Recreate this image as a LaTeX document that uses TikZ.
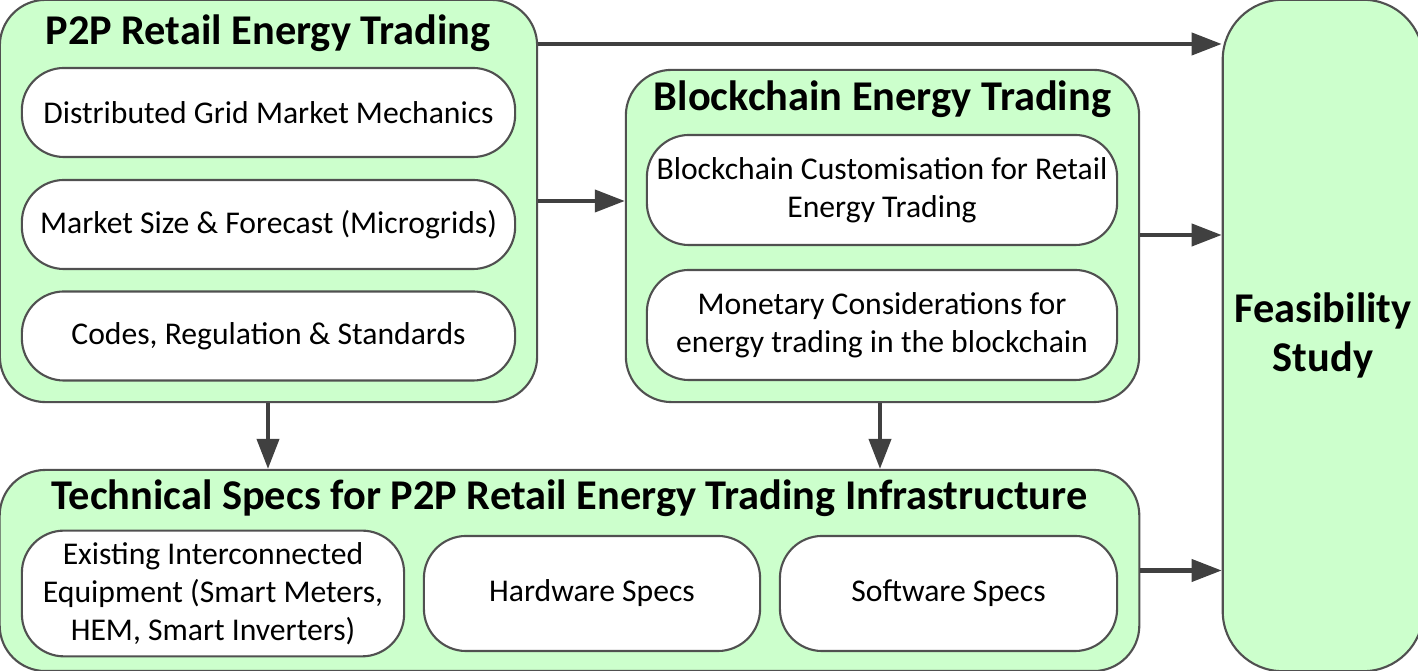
\documentclass[tikz,border=0pt]{standalone}
\usepackage{fontspec}
\setmainfont{Carlito}
\usetikzlibrary{arrows.meta,positioning}
\definecolor{panelgreen}{HTML}{CCFFCC}
\definecolor{edgegray}{HTML}{505050}
\definecolor{arrowgray}{HTML}{404040}
\tikzset{
  panel/.style={draw=edgegray, fill=panelgreen, line width=0.6pt, rounded corners=13pt},
  item/.style={draw=edgegray, fill=white, line width=0.6pt, rounded corners=12pt,
    inner xsep=2pt, align=center, font=\fontsize{9}{10.8}\selectfont},
  heading/.style={font=\fontsize{12.05}{14}\selectfont\bfseries},
  flow/.style={-{Triangle[length=3mm,width=2.2mm]}, line width=1.15pt, arrowgray}
}

\begin{document}
\begin{tikzpicture}[x=0.01cm, y=-0.01cm]
  \useasboundingbox (0,0) rectangle (1418,671);
  % panels
  \node[panel, minimum width=5.37cm, minimum height=4.02cm] (p2p) at (268.5,201) {};
  \node[panel, minimum width=5.13cm, minimum height=3.32cm] (chain) at (882.5,236) {};
  \node[panel, minimum width=11.39cm, minimum height=2.01cm] (tech) at (569.5,570.5) {};
  \node[panel, rounded corners=17pt, minimum width=1.90cm, minimum height=6.71cm,
    font=\fontsize{12.05}{14}\selectfont\bfseries, align=center] (feas) at (1323,335.5) {Feasibility\\Study};
  % headings
  \node[heading] (p2ptitle) at (268,33) {P2P Retail Energy Trading};
  \node[heading] (chaintitle) at (882.5,99) {Blockchain Energy Trading};
  \node[heading] (techtitle) at (569.5,498) {Technical Specs for P2P Retail Energy Trading Infrastructure};
  % items
  \node[item, minimum width=4.93cm, minimum height=0.89cm] (grid) at (268.5,112.5) {Distributed Grid Market Mechanics};
  \node[item, minimum width=4.93cm, minimum height=0.89cm] (size) at (268.5,224.5) {Market Size \& Forecast (Microgrids)};
  \node[item, minimum width=4.93cm, minimum height=0.89cm] (codes) at (268.5,336) {Codes, Regulation \& Standards};
  \node[item, minimum width=4.70cm, minimum height=1.10cm] (custom) at (882,190) {Blockchain Customisation for Retail\\Energy Trading};
  \node[item, minimum width=4.70cm, minimum height=1.10cm] (money) at (882,325) {Monetary Considerations for\\energy trading in the blockchain};
  \node[item, minimum width=3.82cm, minimum height=1.15cm] (equip) at (213,593.5) {Existing Interconnected\\Equipment (Smart Meters,\\HEM, Smart Inverters)};
  \node[item, minimum width=3.36cm, minimum height=1.15cm] (hw) at (592,593.5) {Hardware Specs};
  \node[item, minimum width=3.37cm, minimum height=1.15cm] (sw) at (948.5,593.5) {Software Specs};
  % arrows
  \coordinate (r1) at (0,44);
  \coordinate (r2) at (0,201);
  \coordinate (r3) at (0,235);
  \coordinate (c1) at (268,0);
  \coordinate (c2) at (880,0);
  \draw[flow] (p2p.east |- r1) -- (feas.west |- r1);
  \draw[flow] (p2p.east |- r2) -- (chain.west |- r2);
  \draw[flow] (chain.east |- r3) -- (feas.west |- r3);
  \draw[flow] (tech.east) -- (feas.west |- tech.east);
  \draw[flow] (p2p.south -| c1) -- (tech.north -| c1);
  \draw[flow] (chain.south -| c2) -- (tech.north -| c2);
\end{tikzpicture}
\end{document}
